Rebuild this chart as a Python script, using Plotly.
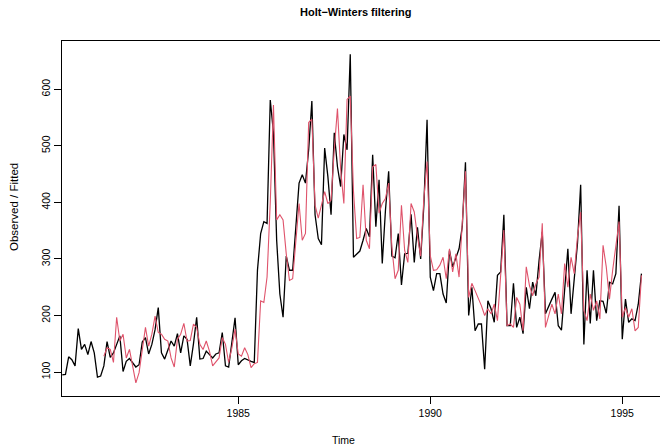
import plotly.graph_objects as go

# Monthly series starting mid-1980
start_year = 1980
start_month_offset = 5  # first observation index within 1980 (0-based months)

observed = [95, 96, 127, 122, 111, 177, 140, 149, 131, 154, 134, 91, 93, 111, 154, 126, 134, 149, 164, 101,
            119, 124, 116, 109, 113, 153, 161, 132, 149, 175, 214, 134, 123, 140, 155, 146, 168, 134, 164, 158,
            111, 150, 197, 123, 124, 137, 131, 125, 132, 134, 170, 111, 109, 155, 196, 113, 120, 124, 121, 119,
            117, 280, 345, 366, 363, 581, 523, 333, 238, 197, 305, 280, 280, 360, 434, 449, 434, 493, 579, 378,
            336, 325, 496, 446, 378, 523, 463, 428, 520, 493, 662, 303, 308, 314, 333, 354, 339, 484, 357, 440,
            292, 386, 455, 305, 302, 345, 254, 309, 310, 379, 294, 356, 300, 395, 546, 268, 244, 274, 274, 238,
            222, 315, 286, 303, 318, 357, 471, 200, 250, 173, 185, 185, 105, 226, 212, 188, 271, 277, 378, 182,
            182, 257, 179, 197, 168, 250, 212, 259, 235, 297, 348, 203, 217, 229, 241, 182, 174, 250, 318, 203,
            262, 327, 431, 149, 280, 186, 280, 191, 226, 225, 204, 259, 256, 274, 394, 158, 229, 188, 194, 191,
            220, 274]

fitted_start_index = 13
fitted = [128, 143, 140, 117, 197, 155, 167, 125, 140, 111, 81, 99, 137, 179, 146, 167, 199, 170, 167, 158,
          155, 125, 109, 158, 167, 186, 155, 156, 185, 179, 149, 140, 155, 137, 111, 119, 125, 161, 149, 117,
          143, 176, 132, 128, 143, 131, 108, 115, 117, 226, 223, 268, 400, 572, 369, 378, 369, 309, 262, 265,
          333, 398, 333, 345, 541, 547, 395, 372, 395, 419, 398, 404, 493, 566, 458, 398, 582, 588, 420, 336,
          338, 431, 333, 318, 463, 467, 381, 398, 407, 434, 321, 265, 280, 395, 315, 294, 398, 383, 340, 305,
          407, 472, 306, 280, 281, 289, 303, 265, 318, 277, 309, 268, 363, 455, 232, 257, 244, 232, 217, 200,
          212, 203, 220, 191, 277, 351, 182, 185, 179, 232, 220, 173, 286, 253, 235, 256, 268, 363, 179, 200,
          220, 203, 238, 203, 292, 250, 303, 274, 339, 383, 209, 191, 238, 209, 226, 194, 324, 286, 229, 280,
          321, 366, 197, 214, 197, 212, 173, 179, 271]

x_ticks = [1985, 1990, 1995]
y_ticks = [100, 200, 300, 400, 500, 600]

t_obs = [start_year + (start_month_offset + i) / 12 for i in range(len(observed))]
t_fit = [start_year + (start_month_offset + fitted_start_index + i) / 12 for i in range(len(fitted))]

allv = observed + fitted
lo, hi = min(allv), max(allv)
pad = 0.04 * (hi - lo)

W, H = 660, 448
ML, MR, MT, MB = 62, 0, 41, 52
pw, ph = W - ML - MR, H - MT - MB

def px(x):
    return (x - ML) / pw

def py(y):
    return (H - MB - y) / ph

font = "Liberation Sans, Arial, Helvetica, sans-serif"

fig = go.Figure()
fig.add_trace(go.Scatter(x=t_obs, y=observed, mode="lines",
                         line=dict(color="black", width=1.3), showlegend=False))
fig.add_trace(go.Scatter(x=t_fit, y=fitted, mode="lines",
                         line=dict(color="#DF536B", width=1.1), showlegend=False))

fig.update_layout(
    width=W, height=H,
    margin=dict(l=ML, r=MR, t=MT, b=MB),
    paper_bgcolor="white", plot_bgcolor="white",
    font=dict(family=font, size=10, color="black"),
    xaxis=dict(range=[1980.41, 1980.41 + pw / 38.4], showgrid=False, zeroline=False,
               showline=True, mirror=True, linecolor="black", linewidth=1,
               ticks="outside", ticklen=7, tickcolor="black", tickwidth=1,
               tickvals=x_ticks, ticktext=[str(v) for v in x_ticks],
               tickfont=dict(size=10.5)),
    yaxis=dict(range=[lo - pad, hi + pad], showgrid=False, zeroline=False,
               showline=True, mirror=False, linecolor="black", linewidth=1,
               ticks="outside", ticklen=7, tickcolor="black", tickwidth=1,
               tickvals=y_ticks, ticktext=[str(v) for v in y_ticks],
               tickangle=-90, tickfont=dict(size=10.5)),
    annotations=[
        dict(text="<b>Holt−Winters filtering</b>", x=px(355), y=py(12), xref="paper", yref="paper",
             showarrow=False, xanchor="center", yanchor="middle", font=dict(size=11)),
        dict(text="Time", x=px(343), y=py(440), xref="paper", yref="paper",
             showarrow=False, xanchor="center", yanchor="middle", font=dict(size=10.5)),
        dict(text="Observed / Fitted", x=px(14), y=py(207), xref="paper", yref="paper",
             showarrow=False, xanchor="center", yanchor="middle", textangle=-90, font=dict(size=11.5)),
    ],
)

fig.write_html("out.html", config={"displayModeBar": False},
               post_script="document.body.style.margin='0';document.body.style.overflow='hidden';")
